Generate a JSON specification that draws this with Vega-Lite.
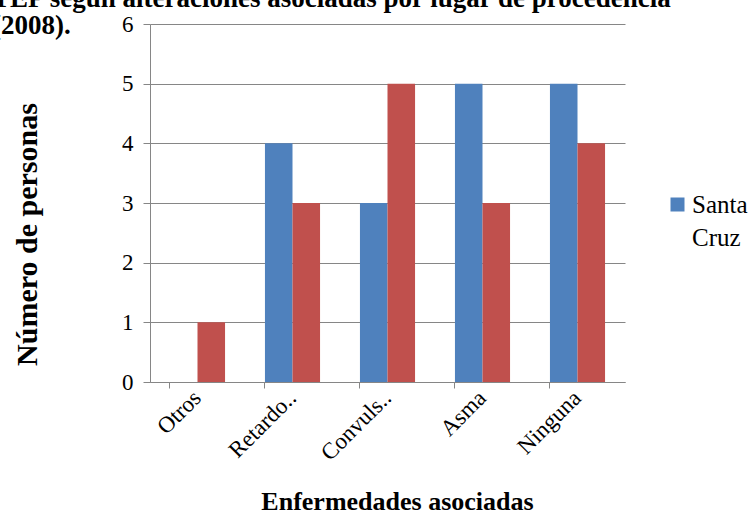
{
  "$schema": "https://vega.github.io/schema/vega-lite/v6.json",
  "width": 475,
  "height": 358,
  "autosize": {"type": "none"},
  "padding": {"left": 150, "top": 24, "right": 128, "bottom": 129},
  "background": "white",
  "title": {
    "text": ["TEP según  alteraciones asociadas por lugar de procedencia", "(2008)."],
    "anchor": "start",
    "frame": "group",
    "dx": -158,
    "dy": 48,
    "baseline": "alphabetic",
    "offset": 0,
    "font": "Times New Roman",
    "fontSize": 27,
    "fontWeight": "bold",
    "lineHeight": 27,
    "color": "black"
  },
  "data": {
    "values": [
      {"enfermedad": "Otros", "lugar": "Santa Cruz", "personas": 0},
      {"enfermedad": "Otros", "lugar": "Otro lugar", "personas": 1},
      {"enfermedad": "Retardo..", "lugar": "Santa Cruz", "personas": 4},
      {"enfermedad": "Retardo..", "lugar": "Otro lugar", "personas": 3},
      {"enfermedad": "Convuls..", "lugar": "Santa Cruz", "personas": 3},
      {"enfermedad": "Convuls..", "lugar": "Otro lugar", "personas": 5},
      {"enfermedad": "Asma", "lugar": "Santa Cruz", "personas": 5},
      {"enfermedad": "Asma", "lugar": "Otro lugar", "personas": 3},
      {"enfermedad": "Ninguna", "lugar": "Santa Cruz", "personas": 5},
      {"enfermedad": "Ninguna", "lugar": "Otro lugar", "personas": 4}
    ]
  },
  "mark": {"type": "bar"},
  "encoding": {
    "x": {
      "field": "enfermedad",
      "type": "nominal",
      "sort": ["Otros", "Retardo..", "Convuls..", "Asma", "Ninguna"],
      "scale": {"paddingInner": 0.42, "paddingOuter": 0.21},
      "axis": {
        "title": "Enfermedades asociadas",
        "titleFont": "Times New Roman",
        "titleFontSize": 26,
        "titleFontWeight": "bold",
        "titleColor": "black",
        "titleX": 247,
        "titleY": 106,
        "labelAngle": -45,
        "labelAlign": "right",
        "labelBaseline": "middle",
        "labelFont": "Times New Roman",
        "labelFontSize": 23,
        "labelColor": "black",
        "labelPadding": 6,
        "bandPosition": 0,
        "ticks": true,
        "tickSize": 6,
        "tickColor": "#868686",
        "domainColor": "#868686",
        "grid": false
      }
    },
    "xOffset": {
      "field": "lugar",
      "type": "nominal",
      "sort": ["Santa Cruz", "Otro lugar"],
      "scale": {"paddingInner": 0, "paddingOuter": 0}
    },
    "y": {
      "field": "personas",
      "type": "quantitative",
      "scale": {"domain": [0, 6], "nice": false},
      "axis": {
        "title": "Número de personas",
        "titleFont": "Times New Roman",
        "titleFontSize": 30,
        "titleFontWeight": "bold",
        "titleColor": "black",
        "titleX": -108,
        "titleY": 210,
        "values": [0, 1, 2, 3, 4, 5, 6],
        "labelFont": "Times New Roman",
        "labelFontSize": 23,
        "labelColor": "black",
        "labelPadding": 10,
        "ticks": true,
        "tickSize": 7,
        "tickColor": "#868686",
        "domainColor": "#868686",
        "grid": true,
        "gridColor": "#868686"
      }
    },
    "color": {
      "field": "lugar",
      "type": "nominal",
      "sort": ["Santa Cruz", "Otro lugar"],
      "scale": {"domain": ["Santa Cruz", "Otro lugar"], "range": ["#4F81BD", "#C0504D"]},
      "legend": {
        "title": null,
        "values": ["Santa Cruz"],
        "orient": "none",
        "legendX": 515,
        "legendY": 168,
        "symbolType": "square",
        "symbolSize": 196,
        "symbolStrokeWidth": 0,
        "labelFont": "Times New Roman",
        "labelFontSize": 25,
        "labelColor": "black",
        "labelExpr": "split(datum.label, ' ')",
        "labelOffset": 2
      }
    }
  },
  "config": {
    "view": {"stroke": null},
    "style": {"guide-label": {"lineHeight": 33}}
  }
}
